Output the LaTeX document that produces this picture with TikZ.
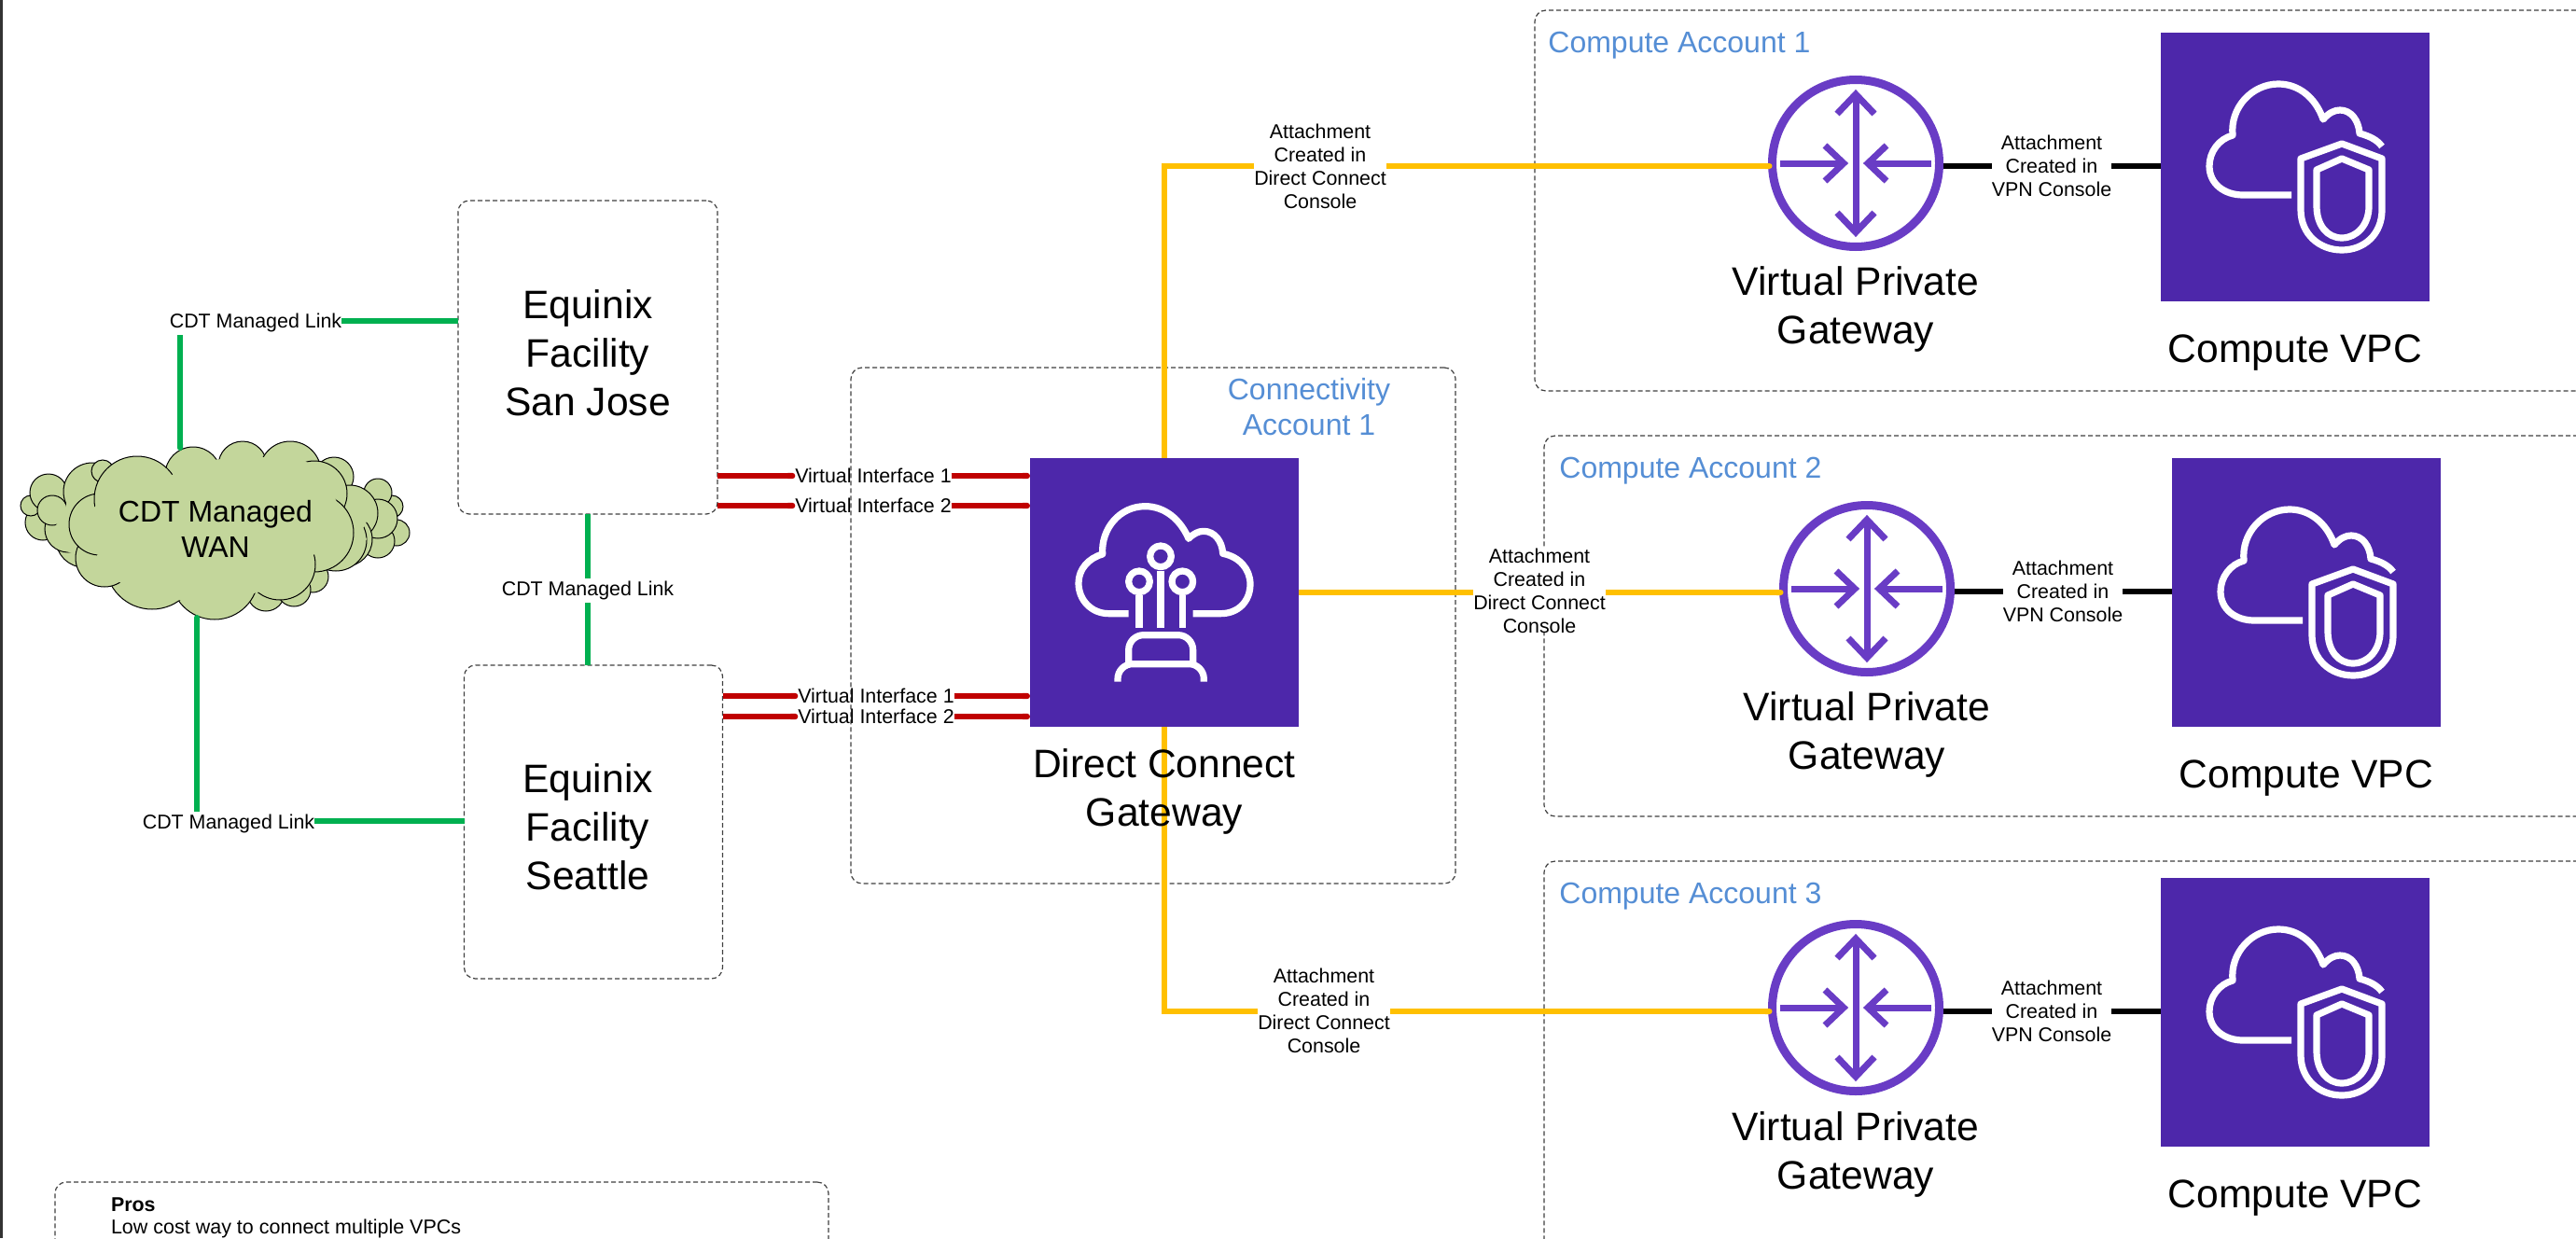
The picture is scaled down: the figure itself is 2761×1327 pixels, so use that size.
\documentclass[tikz,border=0pt]{standalone}
\usepackage{fontspec}
\setmainfont{Liberation Sans}
\usetikzlibrary{arrows.meta}
\pgfdeclarelayer{top}
\pgfsetlayers{main,top}
\definecolor{awspurple}{HTML}{4D27AA}
\definecolor{vpgpurple}{HTML}{693CC5}
\definecolor{gold}{HTML}{FFC000}
\definecolor{linkgreen}{HTML}{00B050}
\definecolor{vifred}{HTML}{C00000}
\definecolor{acctblue}{HTML}{558ED5}
\definecolor{cloudgreen}{HTML}{C3D69B}
\tikzset{
  dbox/.style={draw=black!75,dashed,dash pattern=on 2.5pt off 1.5pt,line width=0.6pt,rounded corners=6pt,inner sep=0pt,outer sep=0pt,align=center},
  bigtext/.style={font=\fontsize{21.3}{26}\selectfont,align=center,inner sep=0pt},
  accttext/.style={font=\fontsize{16}{19}\selectfont,text=acctblue,align=center,inner sep=0pt},
  smalltext/.style={font=\fontsize{10.7}{12.5}\selectfont,align=center,inner sep=0pt,outer sep=0pt},
  lbl/.style={smalltext,fill=white,minimum height=13pt},
  pbox/.style={fill=awspurple,minimum size=144pt,inner sep=0pt,outer sep=0pt},
  vpgring/.style={circle,draw=vpgpurple,line width=4.5pt,minimum size=89.5pt,inner sep=0pt,outer sep=0pt},
  linkg/.style={draw=linkgreen,line width=3pt},
  linkr/.style={draw=vifred,line width=3.2pt,-{Round Cap[]}},
  linky/.style={draw=gold,line width=3pt,-{Round Cap[]}},
  linkk/.style={draw=black,line width=3.4pt,shorten <=2.25pt},
  iconw/.style={draw=white,line width=3.6pt,line join=round},
  vpgarrow/.style={draw=vpgpurple,line width=3.5pt,line join=miter},
  cloudc/.style={draw=black,line width=0.5pt,fill=cloudgreen},
}
\newcommand{\vpcicon}[2]{%
\begin{scope}[shift={(#1,#2)}]
 \draw[iconw] (140,174) -- (88,174) .. controls (68,174) and (52,162) .. (52,143) .. controls (52,128) and (62,114) .. (77,110) .. controls (74,80) and (98,55) .. (126,55) .. controls (148,55) and (166,70) .. (174,93) .. controls (180,86) and (186,83) .. (192,83) .. controls (204,83) and (212,94) .. (213,108) .. controls (224,111) and (232,115) .. (237,122);
 \draw[iconw] (150,135) -- (194,119) -- (237,135) -- (237,190) .. controls (237,216) and (218,233) .. (194,233) .. controls (170,233) and (150,216) .. (150,190) -- cycle;
 \draw[iconw] (167,147) -- (194,135) -- (223,147) -- (223,186) .. controls (223,206) and (210,220) .. (194,220) .. controls (178,220) and (167,206) .. (167,186) -- cycle;
\end{scope}}
\newcommand{\vpgicon}[2]{%
\begin{scope}[shift={(#1,#2)}]
 \draw[vpgarrow] (0,-74) -- (0,74);
 \draw[vpgarrow] (-20,-53) -- (0,-74) -- (20,-53);
 \draw[vpgarrow] (-20,53) -- (0,74) -- (20,53);
 \draw[vpgarrow] (-81,0) -- (-13,0);
 \draw[vpgarrow] (-33,-19) -- (-13,0) -- (-33,19);
 \draw[vpgarrow] (81,0) -- (13,0);
 \draw[vpgarrow] (33,-19) -- (13,0) -- (33,19);
\end{scope}}
\begin{document}
\begin{tikzpicture}[x=0.5pt,y=-0.5pt]
\useasboundingbox (0,0) rectangle (2761,1327);
\fill[white] (0,0) rectangle (2761,1327);
\fill[black!80] (0,0) rectangle (3,1327);

% containers
\node[dbox,minimum width=324pt,minimum height=276.5pt] (conn) at (1236,670.5) {};
\node[dbox,minimum width=700pt,minimum height=204pt] (acct1) at (2345,215) {};
\node[dbox,minimum width=700pt,minimum height=204pt] (acct2) at (2355,671) {};
\node[dbox,minimum width=700pt,minimum height=300pt] (acct3) at (2355,1223) {};
\node[dbox,minimum width=414.5pt,minimum height=100pt] (pros) at (473.5,1367) {};

% facilities
\node[dbox,minimum width=139pt,minimum height=168pt] (sj) at (630,383) {};
\node[dbox,minimum width=138.5pt,minimum height=168pt] (sea) at (636,881) {};
\node[bigtext] (tsj) at (630,378) {Equinix\\Facility\\San Jose};
\node[bigtext] (tsea) at (630,886) {Equinix\\Facility\\Seattle};

% cloud: rear layer
\foreach \cx/\cy/\r in {46/560/19,33/542/11,52/528/20,90/578/30,73/567/25,99/527/31,110/505/12,56/547/16,
  425/571/14,405/580/18,420/543/12,405/528/15,358/511/21,405/556/21,285/635/20,335/618/17,315/632/18,375/550/30,370/578/29,360/579/33}
  \draw[cloudc] (\cx,\cy) circle[radius=\r];
\fill[cloudgreen] (72,530) -- (100,522) -- (350,510) -- (372,560) -- (360,600) -- (345,612) -- (328,632) -- (300,634) -- (100,600) -- (68,590) -- (62,580) -- (58,565) -- (70,552) -- cycle;
\fill[cloudgreen] (350,530) -- (385,535) -- (398,550) -- (388,568) -- (393,578) -- (385,590) -- (350,600) -- cycle;
% cloud: front layer
\foreach \cx/\cy/\r in {207/509/30,260/499/26,311/506/33,337/529/35,337/571/42,300/605/38,230/617/47,163/603/50,112/598/31,107/562/33,147/535/46}
  \draw[cloudc] (\cx,\cy) circle[radius=\r];
\fill[cloudgreen] (125,515) -- (180,512) -- (205,495) -- (260,490) -- (320,490) -- (345,505) -- (362,540) -- (366,580) -- (325,600) -- (300,628) -- (230,648) -- (165,640) -- (100,612) -- (105,592) -- (112,575) -- (100,545) -- cycle;
\node[font=\fontsize{16}{19}\selectfont,align=center,inner sep=0pt] (wan) at (231,567) {CDT Managed\\WAN};
\coordinate (wantop) at (193,483);
\coordinate (wanbot) at (211,659);
\coordinate (g1c) at (274,344);
\coordinate (g3c) at (245,880);

% purple services
\node[pbox] (dc) at (1248,635) {};
\node[pbox] (vpc1) at (2460,179) {};
\node[pbox] (vpc2) at (2472,635) {};
\node[pbox] (vpc3) at (2460,1085) {};
\node[vpgring] (vpg1) at (1989,175) {};
\node[vpgring] (vpg2) at (2001,631) {};
\node[vpgring] (vpg3) at (1989,1080) {};
\vpgicon{1989}{175}
\vpgicon{2001}{631}
\vpgicon{1989}{1080}
\vpcicon{2316}{35}
\vpcicon{2328}{491}
\vpcicon{2316}{941}

% Direct Connect icon
\begin{scope}[shift={(1000,380)},scale=1/3]
 \draw[iconw] (629,833) -- (565,833) .. controls (510,833) and (468,790) .. (468,735) .. controls (468,690) and (500,655) .. (545,642) .. controls (540,560) and (600,488) .. (682,488) .. controls (745,488) and (795,530) .. (822,592) .. controls (838,575) and (855,568) .. (870,568) .. controls (905,568) and (930,600) .. (932,640) .. controls (985,650) and (1020,690) .. (1020,738) .. controls (1020,795) and (980,833) .. (925,833) -- (836,833);
 \draw[iconw] (732,649) circle[radius=34];
 \draw[iconw] (663,730) circle[radius=34];
 \draw[iconw] (802,730) circle[radius=34];
 \draw[iconw] (663,775) -- (663,880);
 \draw[iconw] (732,695) -- (732,880);
 \draw[iconw] (802,775) -- (802,880);
 \draw[iconw,rounded corners=8pt] (629,995) -- (629,902) -- (836,902) -- (836,995);
 \draw[iconw,rounded corners=8pt] (594,1052) -- (594,995) -- (871,995) -- (871,1052);
\end{scope}

% labels and captions on the top layer
\begin{pgfonlayer}{top}
\node[accttext] (lconn) at (1403,436) {Connectivity\\Account 1};
\node[accttext,anchor=west] (l1) at (1659,49) {Compute Account 1};
\node[accttext,anchor=west] (l2) at (1671,505) {Compute Account 2};
\node[accttext,anchor=west] (l3) at (1671,961) {Compute Account 3};
\node[bigtext] (tdc) at (1248,848) {Direct Connect\\Gateway};
\node[bigtext] (tv1) at (1989,331) {Virtual Private\\Gateway};
\node[bigtext] (tv2) at (2001,787) {Virtual Private\\Gateway};
\node[bigtext] (tv3) at (1989,1237) {Virtual Private\\Gateway};
\node[bigtext] (tc1) at (2460,378) {Compute VPC};
\node[bigtext] (tc2) at (2472,834) {Compute VPC};
\node[bigtext] (tc3) at (2460,1284) {Compute VPC};
\node[lbl] (g1) at (274,345.5) {CDT Managed Link};
\node[lbl] (g2) at (630,633) {CDT Managed Link};
\node[lbl] (g3) at (245,882.5) {CDT Managed Link};
\node[smalltext] (r1) at (936,510) {Virtual Interface 1};
\node[smalltext] (r2) at (936,542) {Virtual Interface 2};
\node[smalltext] (r3) at (939,746) {Virtual Interface 1};
\node[smalltext] (r4) at (939,768) {Virtual Interface 2};
\node[lbl] (y1) at (1415,178) {Attachment\\Created in\\Direct Connect\\Console};
\node[lbl] (y2) at (1650,633) {Attachment\\Created in\\Direct Connect\\Console};
\node[lbl] (y3) at (1419,1083) {Attachment\\Created in\\Direct Connect\\Console};
\node[lbl] (k1) at (2199,178) {Attachment\\Created in\\VPN Console};
\node[lbl] (k2) at (2211,634) {Attachment\\Created in\\VPN Console};
\node[lbl] (k3) at (2199,1084) {Attachment\\Created in\\VPN Console};
\node[smalltext,anchor=west,font=\fontsize{10.7}{12.5}\selectfont\bfseries] (prosh) at (119,1291) {Pros};
\node[smalltext,anchor=west,font=\fontsize{10.75}{12.5}\selectfont] (prost) at (119,1317) {Low cost way to connect multiple VPCs};
\end{pgfonlayer}

% connectors
\draw[linkg,{Round Cap[]}-] (wantop) |- (sj.west |- g1c);
\draw[linkg] (sj.south -| g2) -- (sea.north -| g2);
\draw[linkg,{Round Cap[]}-] (wanbot) |- (sea.west |- g3c);
\draw[linkr] (sj.east |- r1) -- (r1.west);
\draw[linkr] (r1.east) -- (dc.west |- r1);
\draw[linkr] (sj.east |- r2) -- (r2.west);
\draw[linkr] (r2.east) -- (dc.west |- r2);
\draw[linkr] (sea.east |- r3) -- (r3.west);
\draw[linkr] (r3.east) -- (dc.west |- r3);
\draw[linkr] (sea.east |- r4) -- (r4.west);
\draw[linkr] (r4.east) -- (dc.west |- r4);
\draw[linky] (dc.north) |- (vpg1.west |- y1);
\draw[linky] (dc.east) -- (vpg2.west |- dc.east);
\draw[linky] (dc.south) |- (vpg3.west |- k3);
\draw[linkk] (vpg1.east |- k1) -- (vpc1.west |- k1);
\draw[linkk] (vpg2.east |- k2) -- (vpc2.west |- k2);
\draw[linkk] (vpg3.east |- k3) -- (vpc3.west |- k3);
\end{tikzpicture}
\end{document}
